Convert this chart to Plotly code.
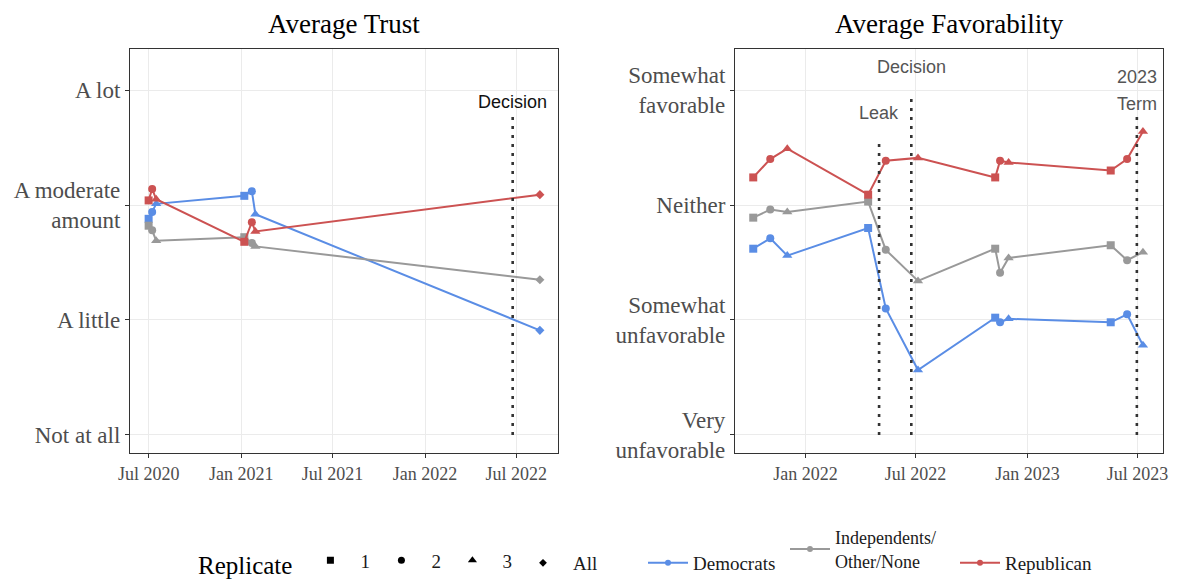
import plotly.graph_objects as go

# ---------------- Average Trust (survey waves 2020-2022) ----------------
trust_dates = ["2020-07-01", "2020-07-08", "2020-07-16",
               "2021-01-07", "2021-01-22", "2021-01-29", "2022-08-17"]
trust_replicate = ["1", "2", "3", "1", "2", "3", "All"]
trust_dem = [2.88, 2.94, 3.01, 3.08, 3.12, 2.92, 1.91]
trust_ind = [2.82, 2.78, 2.69, 2.72, 2.67, 2.64, 2.35]
trust_rep = [3.04, 3.14, 3.05, 2.68, 2.85, 2.77, 3.09]

trust_levels = [1, 2, 3, 4]
trust_labels = ["Not at all", "A little", "A moderate<br>amount", "A lot"]
trust_xticks = ["2020-07-01", "2021-01-01", "2021-07-01", "2022-01-01", "2022-07-01"]
trust_xlabels = ["Jul 2020", "Jan 2021", "Jul 2021", "Jan 2022", "Jul 2022"]

# ---------------- Average Favorability (2021-2023) ----------------
fav_dates = ["2021-10-07", "2021-11-04", "2021-12-02",
             "2022-04-14", "2022-05-13", "2022-07-05",
             "2022-11-09", "2022-11-17", "2022-12-01",
             "2023-05-18", "2023-06-14", "2023-07-10"]
fav_replicate = ["1", "2", "3", "1", "2", "3", "1", "2", "3", "1", "2", "3"]
fav_dem = [2.62, 2.71, 2.56, 2.80, 2.10, 1.565, 2.02, 1.98, 2.01, 1.98, 2.05, 1.78]
fav_ind = [2.89, 2.96, 2.94, 3.03, 2.61, 2.34, 2.62, 2.41, 2.54, 2.65, 2.52, 2.59]
fav_rep = [3.24, 3.40, 3.49, 3.09, 3.385, 3.41, 3.24, 3.385, 3.37, 3.30, 3.40, 3.64]

fav_levels = [1, 2, 3, 4]
fav_labels = ["Very<br>unfavorable", "Somewhat<br>unfavorable", "Neither",
              "Somewhat<br>favorable"]
fav_xticks = ["2022-01-01", "2022-07-01", "2023-01-01", "2023-07-01"]
fav_xlabels = ["Jan 2022", "Jul 2022", "Jan 2023", "Jul 2023"]

# Court events marked with dotted lines
trust_events = ["Decision"]
trust_event_dates = ["2022-06-24"]
trust_event_tops = [3.80]
trust_event_label_y = [3.90]

fav_events = ["Leak", "Decision", "2023<br>Term"]
fav_event_dates = ["2022-05-02", "2022-06-24", "2023-06-30"]
fav_event_tops = [3.55, 3.94, 3.80]

parties = ["Democrats", "Independents/<br>Other/None", "Republican"]
party_colors = ["#5A8DE5", "#999999", "#CC5252"]

replicate_levels = ["1", "2", "3", "All"]
symbol_map = {"1": "square", "2": "circle", "3": "triangle-up", "All": "diamond"}
size_map = {"1": 8, "2": 8, "3": 9, "All": 7}

SERIF = "Liberation Serif"
SANS = "Liberation Sans"

W, H = 1180, 579
MB = 100                      # bottom margin holding the legends
PH = H - MB                   # plot-area height in pixels

fig = go.Figure()

panels = [
    ("x", "y", trust_dates, trust_replicate, [trust_dem, trust_ind, trust_rep]),
    ("x2", "y2", fav_dates, fav_replicate, [fav_dem, fav_ind, fav_rep]),
]
for xa, ya, dates, reps, series in panels:
    for vals, color, name in zip(series, party_colors, parties):
        fig.add_trace(go.Scatter(
            x=dates, y=vals, xaxis=xa, yaxis=ya,
            mode="lines+markers",
            line=dict(color=color, width=2),
            marker=dict(color=color, opacity=1,
                        symbol=[symbol_map[r] for r in reps],
                        size=[size_map[r] for r in reps],
                        line=dict(width=0)),
            name=name, showlegend=False,
        ))

# Legend entries: replicate shapes ("All" sits in its own legend box)
for r in replicate_levels:
    fig.add_trace(go.Scatter(
        x=[None], y=[None], mode="markers",
        marker=dict(color="black", symbol=symbol_map[r], size=size_map[r] - 1),
        name=r, legend="legend5" if r == "All" else "legend", showlegend=True,
    ))
# Legend entries: party colours (one small legend each)
party_legends = ["legend2", "legend3", "legend4"]
for color, name, lg in zip(party_colors, parties, party_legends):
    fig.add_trace(go.Scatter(
        x=[None], y=[None], mode="lines+markers",
        line=dict(color=color, width=2),
        marker=dict(color=color, symbol="circle", size=6),
        name=name, legend=lg, showlegend=True,
    ))

# Dotted event lines and their labels
shapes = []
annotations = []
for name, d, top, ly in zip(trust_events, trust_event_dates, trust_event_tops,
                            trust_event_label_y):
    shapes.append(dict(type="line", xref="x", yref="y", x0=d, x1=d, y0=1, y1=top,
                       line=dict(color="#333333", width=2.6, dash="3px,6px")))
    annotations.append(dict(x=d, y=ly, xref="x", yref="y", text=name, showarrow=False,
                            font=dict(family=SANS, size=18, color="#111111"),
                            xanchor="center", yanchor="middle"))

fav_label_y = {"Leak": [3.80], "Decision": [4.20], "2023<br>Term": [4.11, 3.88]}
for name, d, top in zip(fav_events, fav_event_dates, fav_event_tops):
    shapes.append(dict(type="line", xref="x2", yref="y2", x0=d, x1=d, y0=1, y1=top,
                       line=dict(color="#333333", width=2.6, dash="3px,6px")))
    parts = name.split("<br>")
    for part, ly in zip(parts, fav_label_y[name]):
        annotations.append(dict(x=d, y=ly, xref="x2", yref="y2", text=part,
                                showarrow=False,
                                font=dict(family=SANS, size=18, color="#555555"),
                                xanchor="center", yanchor="middle"))

# Panel positions (pixels from the top of the figure)
dom1 = [130 / W, 558 / W]
dom2 = [735 / W, 1163 / W]
ydom = [(PH - 453) / PH, (PH - 49) / PH]
for dom, title in [(dom1, "Average Trust"), (dom2, "Average Favorability")]:
    annotations.append(dict(x=(dom[0] + dom[1]) / 2, y=1 - 24 / PH,
                            xref="paper", yref="paper", text=title, showarrow=False,
                            font=dict(family=SERIF, size=27, color="black"),
                            xanchor="center", yanchor="middle"))

axis_common = dict(
    showline=True, linecolor="#333333", linewidth=1.2, mirror=True,
    ticks="outside", ticklen=4, tickwidth=1.2, tickcolor="#333333",
    showgrid=True, gridcolor="#EBEBEB", gridwidth=1.4, zeroline=False,
    automargin=False,
)

legend_font = dict(family=SERIF, size=19, color="#1A1A1A")
ly = 16 / H


def party_legend(x_px, y_frac, font=legend_font, yanchor="middle"):
    return dict(orientation="h", xref="container", yref="container",
                x=x_px / W, y=y_frac, xanchor="left", yanchor=yanchor,
                font=font, itemwidth=40, bgcolor="rgba(0,0,0,0)", valign="middle")


fig.update_layout(
    width=W, height=H,
    margin=dict(l=0, r=0, t=0, b=MB),
    paper_bgcolor="white", plot_bgcolor="white",
    xaxis=dict(domain=dom1, type="date", range=["2020-05-25", "2022-09-22"],
               tickvals=trust_xticks, ticktext=trust_xlabels,
               tickfont=dict(family=SERIF, size=18, color="#4D4D4D"),
               anchor="y", **axis_common),
    yaxis=dict(domain=ydom, range=[0.843, 4.357], tickvals=trust_levels,
               ticktext=trust_labels,
               tickfont=dict(family=SERIF, size=23, color="#4D4D4D"),
               anchor="x", **axis_common),
    xaxis2=dict(domain=dom2, type="date", range=["2021-09-07", "2023-08-12"],
                tickvals=fav_xticks, ticktext=fav_xlabels,
                tickfont=dict(family=SERIF, size=18, color="#4D4D4D"),
                anchor="y2", **axis_common),
    yaxis2=dict(domain=ydom, range=[0.843, 4.357], tickvals=fav_levels,
                ticktext=fav_labels,
                tickfont=dict(family=SERIF, size=23, color="#4D4D4D"),
                anchor="x2", **axis_common),
    shapes=shapes,
    annotations=annotations,
    legend=dict(
        title=dict(text="Replicate", side="left",
                   font=dict(family=SERIF, size=25, color="black")),
        orientation="h", xref="container", yref="container",
        x=196 / W, y=ly, xanchor="left", yanchor="middle",
        font=legend_font, itemwidth=50,
        entrywidth=6, entrywidthmode="pixels", bgcolor="rgba(0,0,0,0)",
    ),
    legend5=dict(
        orientation="h", xref="container", yref="container",
        x=513 / W, y=ly, xanchor="left", yanchor="middle",
        font=legend_font, itemwidth=50, bgcolor="rgba(0,0,0,0)",
    ),
    legend2=party_legend(643, ly),
    legend3=party_legend(785, 0, dict(family=SERIF, size=18, color="#1A1A1A"),
                         yanchor="bottom"),
    legend4=party_legend(955, ly),
)

fig.write_html("out.html")
